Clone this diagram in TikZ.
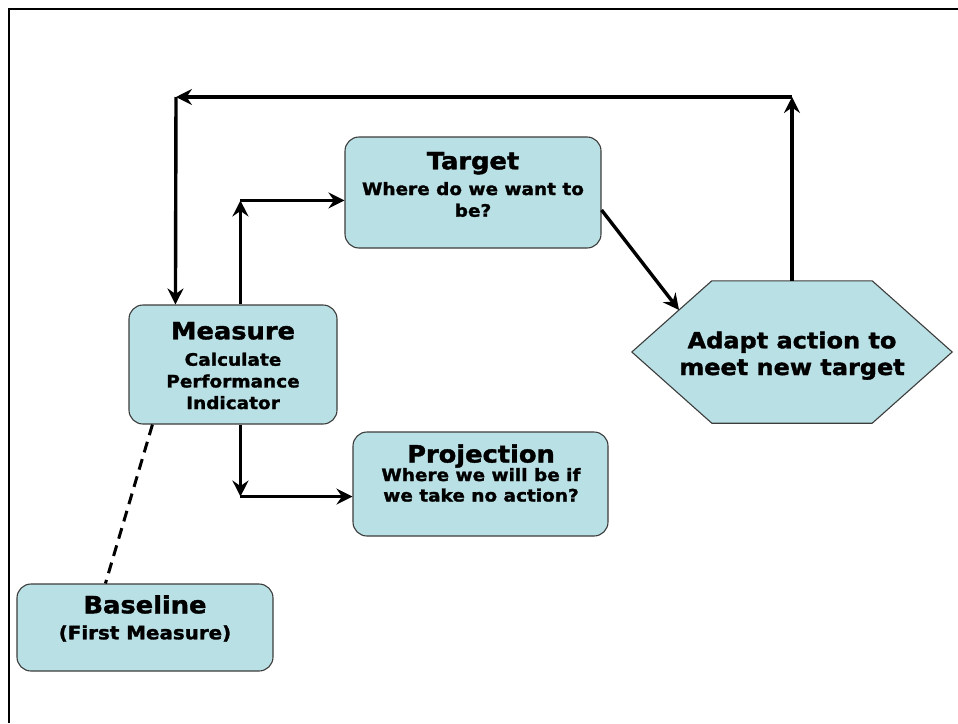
\documentclass[tikz,border=0pt]{standalone}
\usepackage{fontspec}
\setmainfont{DejaVu Sans}[FakeStretch=1.08, BoldFeatures={FakeBold=1.6}]
\usetikzlibrary{arrows.meta,calc}
\definecolor{boxfill}{RGB}{185,224,228}
\definecolor{boxline}{RGB}{60,60,60}
\begin{document}
\begin{tikzpicture}[x=1pt,y=-1pt,
  shapebox/.style={draw=boxline, line width=1.1pt, fill=boxfill, rounded corners=14pt, inner sep=0pt},
  hexbox/.style={draw=boxline, line width=1.1pt, fill=boxfill},
  ttl/.style={anchor=base, inner sep=0pt, font=\bfseries\fontsize{23.8}{28}\selectfont},
  sub/.style={anchor=base, inner sep=0pt, font=\bfseries\fontsize{17.1}{21}\selectfont},
  subbig/.style={anchor=base, inner sep=0pt, font=\bfseries\fontsize{18.4}{22}\selectfont},
  hextxt/.style={anchor=base, inner sep=0pt, font=\bfseries\fontsize{22.2}{26}\selectfont},
  conn/.style={line width=3.4pt, -{Stealth[length=16pt,width=16pt,inset=5.5pt]}},
  dashconn/.style={line width=3pt, dash pattern=on 11pt off 7pt},
]
\useasboundingbox (0,0) rectangle (958,723);
% frame
\draw[line width=2.8pt] (9,723) -- (9,9) -- (958,9);

% boxes
\node[shapebox, minimum width=256pt, minimum height=111pt] (target) at (473,192.5) {};
\node[shapebox, minimum width=208pt, minimum height=119pt] (measure) at (233,364.5) {};
\node[shapebox, minimum width=255pt, minimum height=104pt] (projection) at (480.5,484) {};
\node[shapebox, minimum width=256pt, minimum height=87pt] (baseline) at (145,627.5) {};
\node[minimum width=320pt, minimum height=142pt, inner sep=0pt] (hex) at (792,352) {};
\coordinate (hex-tl) at ($(hex.north west)+(80,0)$);
\coordinate (hex-tr) at ($(hex.north east)+(-80,0)$);
\coordinate (hex-bl) at ($(hex.south west)+(80,0)$);
\coordinate (hex-br) at ($(hex.south east)+(-80,0)$);
\draw[hexbox] (hex.west) -- (hex-tl) -- (hex-tr) -- (hex.east) -- (hex-br) -- (hex-bl) -- cycle;

% texts
\node[ttl] (target-t) at (473,169.3) {Target};
\node[sub] (target-s1) at (473,195) {Where do we want to};
\node[sub] (target-s2) at (473,216.7) {be?};

\node[ttl] (measure-t) at (233,339.3) {Measure};
\node[sub] (measure-s1) at (233,365.7) {Calculate};
\node[sub] (measure-s2) at (233,387.4) {Performance};
\node[sub] (measure-s3) at (233,409) {Indicator};

\node[ttl] (projection-t) at (481,462.5) {Projection};
\node[sub] (projection-s1) at (481,481) {Where we will be if};
\node[sub] (projection-s2) at (481,501.5) {we take no action?};

\node[ttl] (baseline-t) at (145,613.3) {Baseline};
\node[subbig] (baseline-s) at (145,639.3) {(First Measure)};

\node[hextxt] (hex-s1) at (792,348.3) {Adapt action to};
\node[hextxt] (hex-s2) at (792,375) {meet new target};

% connector points
\coordinate (c-top-r) at (hex.north |- 0,97);
\coordinate (c-top-l) at (176,97);
\coordinate (m-loop) at ($(measure.north west)+(47,0)$);
\coordinate (m-up) at ($(measure.north west)+(112,0)$);
\coordinate (c-up) at ($(m-up)+(0,-104)$);
\coordinate (m-down) at ($(measure.south west)+(112,0)$);
\coordinate (c-down) at ($(m-down)+(0,72)$);
\coordinate (t-out) at ($(target.east)+(0,17.5)$);
\coordinate (hex-in) at ($(hex.west)!0.59!(hex-tl)$);
\coordinate (m-dash) at ($(measure.south west)+(24,0)$);
\coordinate (b-dash) at ($(baseline.north west)+(89,0)$);

% connectors
\draw[conn] (hex.north) -- (c-top-r);
\draw[conn] (c-top-r) -- (c-top-l);
\draw[conn] (c-top-l) -- (m-loop);
\draw[conn] (m-up) -- (c-up);
\draw[conn] (c-up) -- (c-up -| target.west);
\draw[conn] (m-down) -- (c-down);
\draw[conn] (c-down) -- (c-down -| projection.west);
\draw[conn] (t-out) -- (hex-in);
\draw[dashconn] (m-dash) -- (b-dash);
\end{tikzpicture}
\end{document}
